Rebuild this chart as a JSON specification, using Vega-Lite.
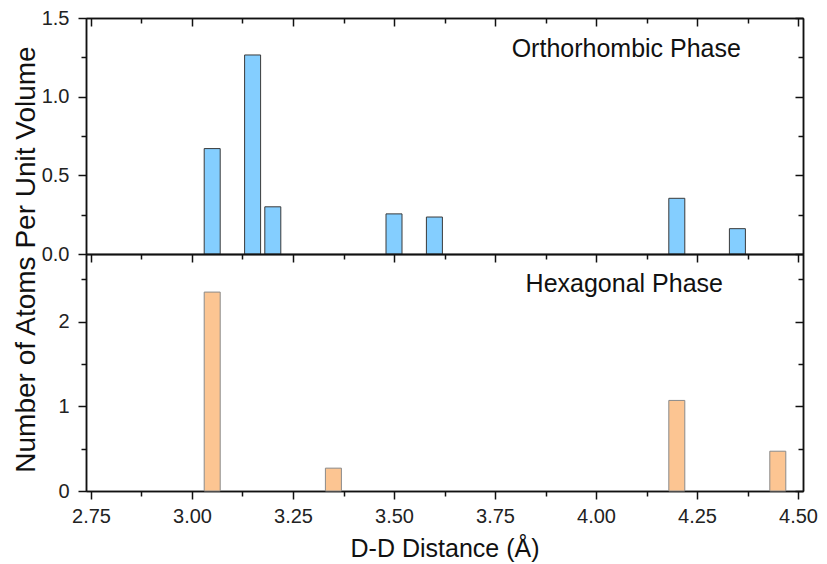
{
  "$schema": "https://vega.github.io/schema/vega-lite/v6.json",
  "padding": {"left": 12, "top": 8, "right": 5, "bottom": 5},
  "background": "white",
  "config": {
    "font": "Liberation Sans",
    "view": {"stroke": null},
    "axis": {"grid": false, "domainColor": "#111", "domainWidth": 1.5, "tickColor": "#111", "tickWidth": 1.5, "labelFont": "Liberation Sans", "labelFontSize": 20, "labelColor": "#222", "titleFont": "Liberation Sans", "titleFontSize": 25, "titleColor": "#111", "titleFontWeight": "normal"}
  },
  "datasets": {
    "orth": [
      {"d": 3.05, "n": 0.67},
      {"d": 3.15, "n": 1.265},
      {"d": 3.20, "n": 0.30},
      {"d": 3.50, "n": 0.255},
      {"d": 3.60, "n": 0.235},
      {"d": 4.20, "n": 0.354},
      {"d": 4.35, "n": 0.161}
    ],
    "hex": [
      {"d": 3.05, "n": 2.35},
      {"d": 3.35, "n": 0.27},
      {"d": 4.20, "n": 1.07},
      {"d": 4.45, "n": 0.47}
    ]
  },
  "spacing": 0,
  "bounds": "flush",
  "vconcat": [
    {
      "width": 717,
      "height": 236,
      "data": {"name": "orth"},
      "resolve": {"axis": {"x": "independent", "y": "independent"}},
      "layer": [
        {
          "mark": {"type": "bar", "size": 16, "fill": "#84CEFF", "stroke": "#3a3a3a", "strokeWidth": 1},
          "encoding": {
            "x": {"field": "d", "type": "quantitative", "scale": {"domain": [2.75, 4.5], "nice": false, "zero": false},
                  "axis": {"orient": "bottom", "values": [2.75, 3, 3.25, 3.5, 3.75, 4, 4.25, 4.5], "labels": false, "ticks": false, "title": null}},
            "y": {"field": "n", "type": "quantitative", "scale": {"domain": [0, 1.5], "nice": false},
                  "axis": {"orient": "left", "values": [0, 0.5, 1, 1.5], "format": ".1f", "tickSize": 8, "labelPadding": 9,
                           "title": "Number of Atoms Per Unit Volume", "titleFontSize": 28, "titleY": 241, "titleAlign": "center", "titlePadding": 1}}
          }
        },
        {
          "mark": {"type": "point", "opacity": 0},
          "encoding": {
            "x": {"field": "d", "type": "quantitative", "scale": {"domain": [2.75, 4.5], "nice": false, "zero": false},
                  "axis": {"orient": "top", "values": [2.75, 3, 3.25, 3.5, 3.75, 4, 4.25, 4.5], "labels": false, "tickSize": -8, "title": null}},
            "y": {"field": "n", "type": "quantitative", "scale": {"domain": [0, 1.5], "nice": false},
                  "axis": {"orient": "left", "values": [0.25, 0.75, 1.25], "labels": false, "tickSize": 5, "title": null}}
          }
        },
        {
          "mark": {"type": "point", "opacity": 0},
          "encoding": {
            "x": {"field": "d", "type": "quantitative", "scale": {"domain": [2.75, 4.5], "nice": false, "zero": false},
                  "axis": {"orient": "top", "values": [2.875, 3.125, 3.375, 3.625, 3.875, 4.125, 4.375], "labels": false, "tickSize": -5, "title": null}},
            "y": {"field": "n", "type": "quantitative", "scale": {"domain": [0, 1.5], "nice": false},
                  "axis": {"orient": "right", "values": [0, 0.5, 1, 1.5], "labels": false, "tickSize": -8, "title": null}}
          }
        },
        {
          "mark": {"type": "point", "opacity": 0},
          "encoding": {
            "x": {"field": "d", "type": "quantitative", "scale": {"domain": [2.75, 4.5], "nice": false, "zero": false},
                  "axis": null},
            "y": {"field": "n", "type": "quantitative", "scale": {"domain": [0, 1.5], "nice": false},
                  "axis": {"orient": "right", "values": [0.25, 0.75, 1.25], "labels": false, "tickSize": -5, "title": null}}
          }
        },
        {
          "data": {"values": [{"label": "Orthorhombic Phase"}]},
          "mark": {"type": "text", "fontSize": 25, "font": "Liberation Sans", "color": "#111", "align": "center", "baseline": "middle"},
          "encoding": {
            "text": {"field": "label"},
            "x": {"datum": 4.075, "type": "quantitative", "axis": null},
            "y": {"datum": 1.3, "type": "quantitative", "axis": null}
          }
        }
      ]
    },
    {
      "width": 717,
      "height": 237,
      "data": {"name": "hex"},
      "resolve": {"axis": {"x": "independent", "y": "independent"}},
      "layer": [
        {
          "mark": {"type": "bar", "size": 16, "fill": "#FCC592", "stroke": "#8a8a8a", "strokeWidth": 1},
          "encoding": {
            "x": {"field": "d", "type": "quantitative", "scale": {"domain": [2.75, 4.5], "nice": false, "zero": false},
                  "axis": {"orient": "bottom", "values": [2.75, 3, 3.25, 3.5, 3.75, 4, 4.25, 4.5], "format": ".2f", "tickSize": 8, "labelPadding": 7, "title": "D-D Distance (Å)", "titlePadding": 10}},
            "y": {"field": "n", "type": "quantitative", "scale": {"domain": [0, 2.8], "nice": false},
                  "axis": {"orient": "left", "values": [0, 1, 2], "format": "d", "tickSize": 8, "labelPadding": 9, "title": null}}
          }
        },
        {
          "mark": {"type": "point", "opacity": 0},
          "encoding": {
            "x": {"field": "d", "type": "quantitative", "scale": {"domain": [2.75, 4.5], "nice": false, "zero": false},
                  "axis": {"orient": "bottom", "values": [2.875, 3.125, 3.375, 3.625, 3.875, 4.125, 4.375], "labels": false, "tickSize": 5, "title": null}},
            "y": {"field": "n", "type": "quantitative", "scale": {"domain": [0, 2.8], "nice": false},
                  "axis": {"orient": "left", "values": [0.5, 1.5, 2.5], "labels": false, "tickSize": 5, "title": null}}
          }
        },
        {
          "mark": {"type": "point", "opacity": 0},
          "encoding": {
            "x": {"field": "d", "type": "quantitative", "scale": {"domain": [2.75, 4.5], "nice": false, "zero": false},
                  "axis": {"orient": "top", "values": [2.75, 3, 3.25, 3.5, 3.75, 4, 4.25, 4.5], "labels": false, "tickSize": -8, "title": null}},
            "y": {"field": "n", "type": "quantitative", "scale": {"domain": [0, 2.8], "nice": false},
                  "axis": {"orient": "right", "values": [0, 1, 2], "labels": false, "tickSize": -8, "title": null}}
          }
        },
        {
          "mark": {"type": "point", "opacity": 0},
          "encoding": {
            "x": {"field": "d", "type": "quantitative", "scale": {"domain": [2.75, 4.5], "nice": false, "zero": false},
                  "axis": {"orient": "top", "values": [2.875, 3.125, 3.375, 3.625, 3.875, 4.125, 4.375], "labels": false, "tickSize": -5, "title": null}},
            "y": {"field": "n", "type": "quantitative", "scale": {"domain": [0, 2.8], "nice": false},
                  "axis": {"orient": "right", "values": [0.5, 1.5, 2.5], "labels": false, "tickSize": -5, "title": null}}
          }
        },
        {
          "data": {"values": [{"label": "Hexagonal Phase"}]},
          "mark": {"type": "text", "fontSize": 25, "font": "Liberation Sans", "color": "#111", "align": "center", "baseline": "middle"},
          "encoding": {
            "text": {"field": "label"},
            "x": {"datum": 4.07, "type": "quantitative", "axis": null},
            "y": {"datum": 2.45, "type": "quantitative", "axis": null}
          }
        }
      ]
    }
  ]
}
